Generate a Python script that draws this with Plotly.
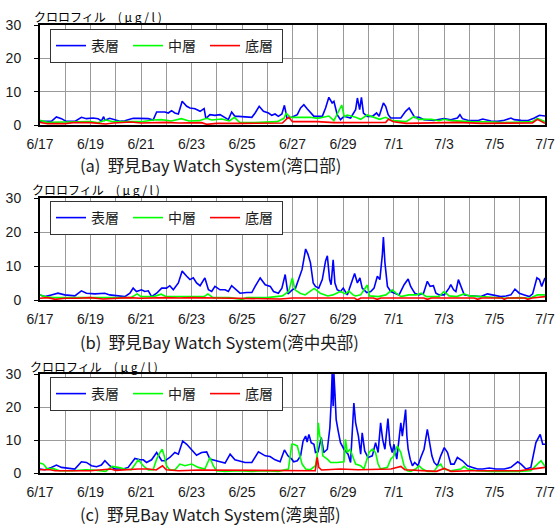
import plotly.graph_objects as go

W, H = 555, 527

# x positions are days elapsed since 6/17 00:00
label_days = [0, 2, 4, 6, 8, 10, 12, 14, 16, 18, 20]
tick_labels = ["6/17", "6/19", "6/21", "6/23", "6/25", "6/27", "6/29", "7/1", "7/3", "7/5", "7/7"]

series_names = ["表層", "中層", "底層"]
series_colors = ["#0000ff", "#00ff00", "#ff0000"]

captions = ["(a)  野見Bay Watch System(湾口部)",
            "(b)  野見Bay Watch System(湾中央部)",
            "(c)  野見Bay Watch System(湾奥部)"]
y_title = "クロロフィル　( μ g / l )"

# ---- (a) 湾口部 ----
a_blue_t = [0.0, 0.45, 0.65, 0.85, 1.04, 1.38, 1.64, 1.84, 2.10, 2.30, 2.43, 2.52, 2.57, 2.76, 2.96, 3.16,
            3.36, 3.69, 3.89, 4.29, 4.48, 4.62, 4.95, 5.08, 5.21, 5.34, 5.48, 5.63, 5.81, 5.94, 6.14,
            6.34, 6.50, 6.57, 6.73, 6.93, 7.13, 7.33, 7.46, 7.59, 7.72, 7.86, 8.19, 8.39, 8.52, 8.68,
            8.85, 9.05, 9.18, 9.31, 9.44, 9.58, 9.68, 9.78, 9.97, 10.05, 10.19, 10.32, 10.45, 10.58,
            10.71, 10.85, 11.18, 11.31, 11.44, 11.57, 11.64, 11.77, 11.90, 12.04, 12.30, 12.50, 12.57,
            12.66, 12.73, 12.81, 12.96, 13.16, 13.33, 13.43, 13.60, 13.69, 13.79, 13.89, 14.29, 14.48,
            14.62, 14.75, 14.84, 15.01, 15.21, 15.61, 15.81, 16.00, 16.27, 16.53, 16.63, 16.73, 17.00,
            17.33, 17.53, 17.86, 18.12, 18.39, 18.65, 18.78, 19.05, 19.31, 19.58, 19.78, 20.0]
a_blue_v = [1.1, 1.1, 2.4, 1.9, 1.1, 1.1, 2.3, 1.9, 2.1, 1.9, 1.2, 2.5, 1.4, 2.0, 1.6, 1.1,
            1.3, 2.0, 2.0, 1.9, 1.5, 3.9, 3.9, 3.6, 4.3, 3.6, 3.3, 7.1, 5.6, 5.1, 4.9,
            4.1, 4.9, 1.9, 3.1, 2.9, 3.1, 2.3, 1.6, 3.9, 2.6, 2.6, 2.3, 2.3, 3.6, 5.6,
            4.1, 3.6, 2.9, 3.3, 2.6, 3.3, 5.9, 2.1, 2.3, 2.6, 3.1, 5.1, 6.1, 4.9,
            3.9, 2.6, 2.6, 5.1, 8.3, 6.6, 7.1, 3.1, 1.6, 2.6, 2.1, 4.6, 8.1,
            4.6, 8.3, 3.6, 2.6, 2.6, 3.6, 2.6, 6.6, 5.6, 3.1, 2.1, 2.1, 4.1,
            5.1, 3.6, 2.3, 2.3, 1.6, 1.4, 1.6, 1.9, 1.6, 2.1, 3.1, 1.9, 1.3,
            1.3, 1.8, 1.2, 1.1, 1.4, 2.1, 1.6, 1.4, 1.3, 2.1, 2.9, 2.7]
a_green_t = [0.0, 0.3, 1.0, 1.5, 2.0, 2.3, 2.6, 2.9, 3.5, 4.0, 4.5, 4.8, 5.2, 5.6, 5.9, 6.3, 6.6,
             6.8, 7.2, 7.5, 7.7, 7.9, 8.5, 9.0, 9.4, 9.66, 9.75, 9.92, 10.4, 10.7, 11.0, 11.44,
             11.64, 11.95, 12.05, 12.17, 12.5, 12.7, 12.96, 13.2, 13.45, 13.69, 13.95, 14.5, 14.81,
             15.0, 15.5, 15.8, 16.0, 16.3, 17.06, 18.0, 18.38, 19.0, 19.5, 19.7, 20.0]
a_green_v = [1.4, 0.8, 0.9, 1.0, 1.0, 0.7, 1.5, 1.0, 0.9, 1.0, 1.5, 1.6, 1.2, 1.9, 1.2, 1.3, 2.0,
             1.5, 1.8, 1.2, 2.3, 0.8, 0.7, 0.8, 1.0, 2.0, 3.5, 2.3, 2.3, 2.3, 2.0, 2.7,
             1.3, 6.0, 2.5, 3.0, 2.3, 1.7, 3.0, 2.3, 1.7, 2.3, 1.3, 1.0, 2.5,
             1.7, 1.7, 1.3, 1.7, 1.3, 1.0, 0.9, 0.7, 0.9, 1.0, 2.0, 1.0]
a_red_t = [0.0, 0.3, 1.0, 1.3, 2.0, 2.6, 2.9, 3.3, 3.6, 4.0, 4.6, 5.0, 5.5, 6.4, 6.6, 7.0, 8.0,
           9.0, 9.6, 9.78, 9.85, 10.0, 11.0, 11.64, 12.0, 13.0, 13.69, 13.8, 14.0, 14.5, 15.5,
           16.5, 17.5, 18.5, 19.5, 19.7, 20.0]
a_red_v = [0.8, 0.4, 0.4, 0.7, 0.7, 0.3, 0.6, 0.9, 0.9, 0.6, 0.7, 0.8, 0.6, 0.7, 0.2, 0.5, 0.5,
           0.5, 0.6, 1.9, 2.3, 1.0, 1.0, 0.7, 0.7, 0.6, 0.8, 1.7, 1.0, 0.5, 0.6,
           0.8, 0.5, 0.5, 0.6, 1.7, 0.5]

# ---- (b) 湾中央部 ----
b_blue_t = [0.0, 0.19, 0.45, 0.71, 0.98, 1.38, 1.64, 1.84, 2.17, 2.57, 2.76, 3.10, 3.36, 3.56, 3.69,
            3.82, 4.02, 4.15, 4.29, 4.42, 4.62, 4.82, 5.01, 5.14, 5.28, 5.48, 5.63, 5.81, 5.94, 6.07,
            6.20, 6.34, 6.53, 6.67, 6.80, 6.93, 7.13, 7.33, 7.46, 7.59, 7.79, 7.92, 8.19, 8.39, 8.52,
            8.72, 8.92, 9.12, 9.25, 9.44, 9.58, 9.71, 9.82, 9.99, 10.12, 10.25, 10.38, 10.52, 10.61,
            10.71, 10.82, 10.91, 11.04, 11.18, 11.31, 11.38, 11.47, 11.53, 11.61, 11.68, 11.77, 11.90,
            12.01, 12.17, 12.30, 12.37, 12.46, 12.57, 12.67, 12.76, 12.94, 13.10, 13.23, 13.36, 13.46,
            13.56, 13.60, 13.66, 13.76, 13.89, 14.09, 14.22, 14.42, 14.58, 14.68, 14.84, 15.01, 15.19,
            15.34, 15.45, 15.58, 15.68, 15.81, 16.01, 16.20, 16.27, 16.38, 16.47, 16.57, 16.67, 16.80,
            17.06, 17.46, 17.72, 17.99, 18.25, 18.45, 18.65, 18.81, 18.98, 19.18, 19.38, 19.51, 19.68,
            19.78, 19.87, 20.0]
b_blue_v = [1.5, 1.0, 1.5, 2.0, 1.5, 1.2, 2.7, 2.0, 1.8, 2.0, 1.5, 1.3, 1.0, 2.0, 3.5,
            2.5, 3.0, 2.5, 2.7, 1.0, 2.0, 3.5, 3.5, 4.2, 3.0, 5.0, 8.5, 7.0, 6.0, 6.5,
            5.0, 4.2, 6.5, 3.0, 2.5, 4.0, 3.0, 3.0, 2.5, 4.2, 2.8, 2.0, 2.2, 2.2, 4.0,
            6.5, 4.5, 4.0, 2.5, 2.0, 3.5, 7.5, 1.8, 3.0, 3.5, 6.5, 9.0, 15.0, 13.5,
            11.0, 5.0, 4.0, 3.5, 6.0, 11.5, 13.0, 6.0, 4.5, 11.8, 5.0, 3.0, 2.5,
            3.5, 1.5, 4.5, 6.0, 7.8, 5.0, 6.5, 3.5, 2.2, 2.5, 3.5, 7.0, 6.0,
            13.5, 18.5, 11.0, 4.0, 2.5, 2.0, 1.5, 4.5, 6.2, 4.0, 2.0, 1.5, 2.0,
            5.5, 4.0, 4.2, 2.0, 1.5, 1.5, 3.5, 4.5, 3.0, 2.5, 6.0, 4.0, 1.5,
            1.2, 1.0, 1.8, 1.3, 1.0, 1.2, 1.5, 3.2, 2.0, 1.5, 1.0, 1.8, 6.5,
            6.0, 4.0, 6.5]
b_green_t = [0.0, 0.2, 0.5, 1.0, 2.0, 3.0, 3.6, 3.85, 4.0, 4.5, 4.8, 5.0, 5.5, 6.0, 6.5, 6.65, 6.85,
             7.5, 8.0, 8.2, 9.0, 9.6, 9.85, 9.99, 10.1, 10.3, 10.5, 10.86, 11.1, 11.4, 11.6, 11.9,
             12.1, 12.23, 12.4, 12.5, 12.7, 12.96, 13.05, 13.4, 13.7, 13.95, 14.1, 14.3, 14.6, 14.9,
             15.1, 15.3, 15.8, 16.0, 16.2, 16.5, 16.8, 17.0, 17.5, 18.0, 18.5, 19.0, 19.4, 19.7, 20.0]
b_green_v = [1.5, 1.0, 0.7, 0.7, 0.7, 0.7, 0.7, 1.8, 1.0, 1.0, 1.7, 1.0, 1.0, 1.0, 1.0, 1.8, 0.7,
             0.7, 0.2, 0.7, 0.7, 1.2, 2.5, 6.5, 3.0, 2.0, 1.5, 3.4, 2.0, 1.2, 1.5, 2.5,
             1.8, 2.6, 1.5, 1.2, 1.5, 4.4, 1.2, 1.0, 1.5, 3.0, 2.0, 1.0, 1.5, 1.5,
             2.0, 1.0, 1.0, 2.5, 1.2, 1.0, 1.8, 1.2, 1.0, 0.7, 0.5, 0.7, 0.5, 1.5, 1.5]
b_red_t = [0.0, 0.3, 0.6, 1.0, 1.5, 2.0, 2.5, 3.0, 3.5, 4.0, 4.5, 5.0, 5.5, 6.0, 7.0, 8.0, 9.0,
           9.5, 10.0, 11.0, 12.0, 12.45, 12.57, 12.7, 13.2, 13.36, 13.5, 15.2, 15.34, 15.5, 17.2,
           17.33, 17.5, 18.3, 18.39, 18.5, 19.2, 19.31, 19.5, 20.0]
b_red_v = [0.5, 0.7, 0.2, 0.5, 0.5, 0.7, 0.3, 0.5, 0.7, 0.5, 0.7, 0.7, 0.6, 0.7, 0.6, 0.5, 0.5,
           0.3, 0.6, 0.6, 0.5, 0.6, 0.0, 0.6, 0.6, 0.2, 0.6, 0.6, 0.2, 0.6, 0.6,
           0.2, 0.6, 0.6, 0.2, 0.6, 0.6, 0.2, 0.6, 1.0]

# ---- (c) 湾奥部 ----
c_blue_t = [0.0, 0.19, 0.45, 0.65, 0.85, 1.11, 1.38, 1.64, 1.84, 2.04, 2.24, 2.43, 2.57, 2.76, 2.96,
            3.29, 3.49, 3.76, 3.96, 4.09, 4.22, 4.42, 4.62, 4.82, 4.95, 5.14, 5.34, 5.48, 5.65, 5.81,
            6.01, 6.20, 6.40, 6.60, 6.73, 6.93, 7.13, 7.33, 7.53, 7.72, 7.92, 8.12, 8.39, 8.65, 8.92,
            9.11, 9.31, 9.51, 9.68, 9.82, 9.97, 10.05, 10.19, 10.32, 10.42, 10.52, 10.58, 10.65, 10.74,
            10.85, 10.91, 11.01, 11.14, 11.24, 11.38, 11.48, 11.53, 11.57, 11.61, 11.64, 11.68, 11.73,
            11.81, 11.90, 12.04, 12.20, 12.30, 12.43, 12.50, 12.61, 12.70, 12.76, 12.86, 12.99, 13.16,
            13.29, 13.39, 13.49, 13.57, 13.66, 13.78, 13.86, 13.95, 14.02, 14.13, 14.22, 14.29, 14.35,
            14.42, 14.48, 14.53, 14.58, 14.66, 14.75, 14.84, 14.97, 15.08, 15.21, 15.34, 15.44, 15.52,
            15.61, 15.74, 15.87, 16.01, 16.14, 16.27, 16.40, 16.53, 16.73, 16.93, 17.13, 17.33, 17.53,
            17.79, 18.06, 18.39, 18.65, 18.92, 19.05, 19.25, 19.44, 19.64, 19.81, 19.91, 20.0]
c_blue_v = [1.2, 1.0, 1.7, 2.4, 1.7, 1.5, 1.2, 3.4, 3.2, 2.2, 1.9, 2.4, 3.7, 2.2, 1.2,
            1.2, 1.7, 4.4, 4.0, 4.0, 3.2, 4.0, 6.2, 3.7, 3.7, 4.7, 6.2, 5.7, 9.7, 8.7,
            7.0, 5.4, 6.2, 6.4, 4.2, 3.7, 3.4, 3.0, 5.7, 4.0, 3.7, 3.2, 3.2, 6.4, 5.2,
            5.0, 4.0, 3.4, 7.0, 5.2, 4.2, 3.4, 3.7, 5.2, 9.7, 11.2, 9.4, 11.7, 9.2,
            8.7, 6.2, 6.4, 10.7, 6.2, 7.2, 13.7, 21.2, 30.0, 20.2, 30.0, 24.2, 16.2,
            12.7, 9.2, 7.2, 5.7, 3.2, 21.2, 15.2, 11.2, 5.7, 12.2, 6.7, 4.7, 5.2,
            9.2, 6.2, 15.2, 10.2, 7.2, 16.5, 8.7, 6.2, 8.7, 4.2, 10.2, 15.2, 11.2,
            15.2, 19.2, 11.2, 7.2, 4.2, 2.2, 3.2, 2.2, 4.7, 7.2, 13.2, 8.7, 5.2,
            3.2, 2.2, 5.2, 7.7, 6.2, 2.7, 2.7, 4.7, 3.7, 2.2, 1.7, 1.2, 1.2,
            1.5, 1.2, 1.2, 1.7, 3.4, 2.7, 1.2, 1.7, 9.2, 11.7, 8.7, 8.7]
c_green_t = [0.0, 0.13, 0.30, 0.5, 0.77, 1.3, 1.8, 2.1, 2.6, 2.86, 3.1, 3.36, 3.62, 3.89, 4.09, 4.29,
             4.48, 4.62, 4.75, 4.84, 4.92, 5.01, 5.14, 5.34, 5.54, 5.74, 6.01, 6.27, 6.53, 6.73, 6.86,
             6.99, 7.33, 7.86, 8.39, 8.92, 9.44, 9.84, 9.97, 10.05, 10.19, 10.29, 10.38, 10.52, 10.71,
             10.91, 10.98, 11.02, 11.08, 11.14, 11.20, 11.38, 11.51, 11.77, 12.04, 12.10, 12.17, 12.28,
             12.37, 12.50, 12.70, 12.83, 13.03, 13.16, 13.29, 13.39, 13.49, 13.76, 13.89, 14.02, 14.15,
             14.29, 14.42, 14.55, 14.68, 14.88, 15.01, 15.15, 15.34, 15.61, 15.74, 15.87, 15.98, 16.27,
             16.67, 16.80, 16.93, 17.33, 17.86, 18.39, 18.92, 19.44, 19.71, 19.84, 20.0]
c_green_v = [3.0, 2.7, 1.2, 1.4, 0.7, 0.7, 1.0, 0.9, 0.5, 2.0, 1.7, 1.2, 1.0, 4.0, 2.2, 0.9,
             1.0, 4.2, 6.2, 7.2, 5.2, 2.2, 0.9, 0.9, 2.7, 2.2, 2.7, 1.7, 1.2, 4.7, 2.2,
             0.7, 0.5, 0.7, 0.5, 0.7, 0.5, 1.2, 8.7, 8.7, 8.2, 5.2, 2.7, 1.2, 1.0,
             2.2, 5.7, 15.2, 11.2, 10.2, 5.2, 4.2, 3.2, 3.2, 3.4, 10.2, 6.2, 7.2,
             5.2, 2.7, 2.2, 1.2, 6.2, 7.2, 6.2, 2.7, 1.2, 1.7, 4.2, 5.2, 8.2,
             6.2, 2.2, 0.7, 0.5, 1.2, 2.2, 1.2, 0.5, 0.5, 2.0, 2.7, 1.2, 0.7,
             1.2, 2.0, 1.2, 0.7, 0.5, 0.4, 0.5, 0.7, 2.7, 3.7, 2.0]
c_red_t = [0.0, 0.4, 0.6, 1.5, 1.7, 2.0, 2.8, 3.0, 3.9, 4.3, 4.6, 4.85, 5.0, 5.5, 6.3, 7.0, 7.9,
           8.5, 9.5, 10.0, 10.9, 10.98, 11.04, 11.15, 11.9, 12.6, 13.9, 14.29, 14.45, 15.7, 16.01,
           16.27, 17.0, 18.0, 19.0, 19.7, 20.0]
c_red_v = [1.0, 1.0, 0.7, 0.7, 0.9, 0.7, 1.2, 0.8, 1.2, 1.2, 0.9, 2.2, 1.0, 0.7, 0.9, 0.9, 0.9,
           0.7, 0.7, 0.7, 0.7, 4.7, 1.7, 0.9, 1.2, 1.0, 1.2, 2.0, 1.0, 0.5, 1.4,
           0.5, 0.7, 0.7, 0.7, 1.4, 1.7]

panels = [
    [(a_blue_t, a_blue_v), (a_green_t, a_green_v), (a_red_t, a_red_v)],
    [(b_blue_t, b_blue_v), (b_green_t, b_green_v), (b_red_t, b_red_v)],
    [(c_blue_t, c_blue_v), (c_green_t, c_green_v), (c_red_t, c_red_v)],
]

# panel geometry in page pixels (top, bottom)
plot_left, plot_right = 40, 545
panel_rows = [(25, 125), (198, 300), (374, 473)]
caption_y = [165, 342, 514]
title_y = [16, 189, 366]
title_x = [32, 30, 28]
legend_top = [29, 201, 377]


def py(p):
    return 1 - p / H


fig = go.Figure()
legend_ids = ["legend", "legend2", "legend3"]

for i, series in enumerate(panels):
    sfx = "" if i == 0 else str(i + 1)
    for (t, v), name, color in zip(series, series_names, series_colors):
        fig.add_trace(go.Scatter(
            x=t, y=v, mode="lines", name=name,
            line=dict(color=color, width=1.6),
            xaxis="x" + sfx, yaxis="y" + sfx,
            legend=legend_ids[i], showlegend=True,
        ))

layout = dict(
    width=W, height=H, autosize=False,
    margin=dict(l=0, r=0, t=0, b=0, pad=0, autoexpand=False),
    paper_bgcolor="white", plot_bgcolor="white",
    font=dict(family="Liberation Sans, Arial, sans-serif", color="#1a1a1a"),
)

for i, (top, bot) in enumerate(panel_rows):
    sfx = "" if i == 0 else str(i + 1)
    layout["xaxis" + sfx] = dict(
        domain=[plot_left / W, plot_right / W], anchor="y" + sfx,
        range=[0, 20], tickmode="array", tickvals=label_days, ticktext=tick_labels,
        showgrid=True, gridcolor="#9a9a9a", gridwidth=1,
        minor=dict(dtick=1, tick0=0, showgrid=True, gridcolor="#9a9a9a", gridwidth=1, ticks=""),
        showline=True, mirror=True, linecolor="black", linewidth=2,
        ticks="", tickfont=dict(size=14), ticklabelstandoff=5,
        zeroline=False, fixedrange=True, automargin=False,
    )
    layout["yaxis" + sfx] = dict(
        domain=[py(bot), py(top)], anchor="x" + sfx,
        range=[0, 30], tickvals=[0, 10, 20, 30],
        showgrid=True, gridcolor="#9a9a9a", gridwidth=1,
        showline=True, mirror=True, linecolor="black", linewidth=2,
        ticks="outside", ticklen=4, tickcolor="black",
        tickfont=dict(size=14), ticklabelstandoff=10,
        zeroline=False, fixedrange=True, automargin=False,
    )
    layout[legend_ids[i]] = dict(
        orientation="h", x=50 / W, y=py(legend_top[i]), xanchor="left", yanchor="top",
        bgcolor="white", bordercolor="#333333", borderwidth=1,
        font=dict(family="Noto Sans CJK JP", size=14, color="#1a1a1a"),
        entrywidth=32, itemwidth=30, tracegroupgap=0,
    )

annotations = []
for i in range(3):
    annotations.append(dict(
        text=captions[i], xref="paper", yref="paper",
        x=78 / W, y=py(caption_y[i]), xanchor="left", yanchor="middle",
        showarrow=False,
        font=dict(family="Noto Sans CJK JP", size=16.5, color="#1a1a1a"),
    ))
    annotations.append(dict(
        text=y_title, xref="paper", yref="paper",
        x=title_x[i] / W, y=py(title_y[i]), xanchor="left", yanchor="middle",
        showarrow=False,
        font=dict(family="Noto Sans CJK JP", size=12, color="#000000"),
    ))
layout["annotations"] = annotations

fig.update_layout(**layout)
fig.write_html("out.html")
